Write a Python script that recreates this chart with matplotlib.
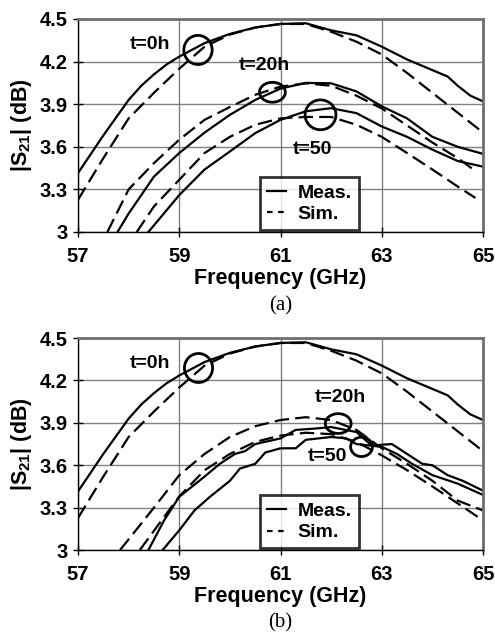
import matplotlib
matplotlib.use('Agg')
import matplotlib.pyplot as plt
from matplotlib.patches import Ellipse
from matplotlib.lines import Line2D

plt.rcParams['font.family'] = ['Liberation Sans', 'DejaVu Sans']
plt.rcParams['font.weight'] = 'bold'
plt.rcParams['mathtext.fontset'] = 'custom'
plt.rcParams['mathtext.rm'] = 'Liberation Sans:bold'
plt.rcParams['mathtext.bf'] = 'Liberation Sans:bold'

xticks = [57, 59, 61, 63, 65]
yticks = [3.0, 3.3, 3.6, 3.9, 4.2, 4.5]
ytick_labels = ['3', '3.3', '3.6', '3.9', '4.2', '4.5']

# t=0h (same in both panels)
f_t0 = [57, 57.5, 58, 58.25, 58.5, 58.75, 59, 59.5, 60, 60.5, 61, 61.5, 62, 62.5, 63, 63.5, 64, 64.3, 64.5, 64.75, 65]
meas_t0 = [3.415, 3.68, 3.93, 4.03, 4.11, 4.18, 4.235, 4.33, 4.395, 4.44, 4.465, 4.47, 4.42, 4.385, 4.305, 4.215, 4.14, 4.095, 4.03, 3.96, 3.92]
f_t0_sim = [57, 57.5, 58, 58.5, 59, 59.5, 60, 60.5, 61, 61.5, 62, 62.5, 63, 63.5, 64, 64.5, 65]
sim_t0 = [3.227, 3.52, 3.80, 3.98, 4.15, 4.305, 4.39, 4.44, 4.465, 4.465, 4.41, 4.34, 4.25, 4.12, 3.98, 3.84, 3.70]

# panel (a)
fa_meas_t20 = [57.78, 58, 58.5, 59, 59.5, 60, 60.5, 61, 61.5, 62, 62.5, 63, 63.5, 64, 64.5, 65]
a_meas_t20 = [3.0, 3.13, 3.39, 3.556, 3.70, 3.825, 3.93, 4.01, 4.05, 4.047, 3.99, 3.885, 3.80, 3.67, 3.60, 3.55]
fa_sim_t20 = [57.58, 58, 58.5, 59, 59.5, 60, 60.5, 61, 61.5, 62, 62.5, 63, 63.5, 64, 64.5, 64.85]
a_sim_t20 = [3.0, 3.30, 3.485, 3.65, 3.79, 3.88, 3.966, 4.024, 4.047, 4.03, 3.96, 3.87, 3.75, 3.63, 3.52, 3.43]
fa_meas_t50 = [58.39, 59, 59.5, 60, 60.5, 61, 61.5, 62, 62.5, 63, 63.5, 64, 64.5, 65]
a_meas_t50 = [3.0, 3.26, 3.44, 3.567, 3.696, 3.79, 3.85, 3.872, 3.837, 3.743, 3.67, 3.58, 3.50, 3.46]
fa_sim_t50 = [58.16, 58.5, 59, 59.5, 60, 60.5, 61, 61.5, 62, 62.5, 63, 63.5, 64, 64.5, 64.85]
a_sim_t50 = [3.0, 3.18, 3.368, 3.556, 3.67, 3.755, 3.80, 3.81, 3.81, 3.755, 3.67, 3.556, 3.44, 3.32, 3.24]

# panel (b)
fb_meas_t20 = [58.39, 58.7, 59, 59.5, 59.8, 60.1, 60.3, 60.5, 61, 61.3, 61.7, 62, 62.5, 62.8, 63.2, 63.5, 63.8, 64, 64.3, 64.6, 65]
b_meas_t20 = [3.0, 3.21, 3.377, 3.52, 3.61, 3.68, 3.70, 3.75, 3.79, 3.85, 3.86, 3.87, 3.835, 3.74, 3.75, 3.68, 3.61, 3.60, 3.53, 3.49, 3.42]
fb_meas_t50 = [58.67, 59, 59.3, 59.6, 60, 60.2, 60.5, 60.7, 61, 61.3, 61.5, 62, 62.3, 62.5, 63, 63.3, 63.6, 64, 64.5, 65]
b_meas_t50 = [3.0, 3.14, 3.28, 3.375, 3.49, 3.577, 3.61, 3.69, 3.72, 3.72, 3.78, 3.80, 3.79, 3.75, 3.73, 3.68, 3.61, 3.53, 3.47, 3.39]
fb_sim_t20 = [57.83, 58.5, 59, 59.5, 60, 60.5, 61, 61.5, 62, 62.5, 63, 63.5, 64, 64.5, 65]
b_sim_t20 = [3.0, 3.30, 3.53, 3.68, 3.80, 3.876, 3.92, 3.94, 3.92, 3.85, 3.72, 3.61, 3.49, 3.35, 3.28]
fb_sim_t50 = [58.22, 59, 59.5, 60, 60.5, 61, 61.5, 62, 62.5, 63, 63.5, 64, 64.5, 65]
b_sim_t50 = [3.0, 3.38, 3.565, 3.68, 3.765, 3.81, 3.83, 3.82, 3.765, 3.67, 3.565, 3.45, 3.33, 3.21]

# annotations: (x, y, width, height)
circles_a = [(59.37, 4.282, 0.56, 0.205), (60.84, 3.984, 0.51, 0.14), (61.79, 3.825, 0.61, 0.21)]
labels_a = [(58.42, 4.317, 't=0h'), (60.69, 4.17, 't=20h'), (61.64, 3.58, 't=50')]
circles_b = [(59.38, 4.288, 0.556, 0.205), (62.14, 3.895, 0.51, 0.14), (62.6, 3.73, 0.43, 0.137)]
labels_b = [(58.42, 4.32, 't=0h'), (62.19, 4.08, 't=20h'), (61.93, 3.66, 't=50')]

DASH = (0, (6.5, 2.8))


def draw_panel(ax, meas, sims, circles, labels, caption):
    for fx, fy in meas:
        ax.plot(fx, fy, color='black', lw=1.6, solid_joinstyle='round')
    for fx, fy in sims:
        ax.plot(fx, fy, color='black', lw=1.6, linestyle=DASH)
    for cx, cy, w, h in circles:
        ax.add_patch(Ellipse((cx, cy), w, h, fill=False, ec='black', lw=2, zorder=5))
    for lx, ly, txt in labels:
        ax.text(lx, ly, txt, ha='center', va='center', fontsize=14, fontweight='bold')

    ax.set_xlim(57, 65)
    ax.set_ylim(3, 4.5)
    ax.set_xticks(xticks)
    ax.set_xticklabels([str(x) for x in xticks])
    ax.set_yticks(yticks)
    ax.set_yticklabels(ytick_labels)
    ax.grid(True, color='#808080', lw=1)
    ax.set_axisbelow(True)
    ax.tick_params(direction='inout', length=7, width=1, labelsize=14.5)
    ax.tick_params(axis='x', pad=7)
    ax.tick_params(axis='y', pad=4)
    for lab in ax.get_xticklabels() + ax.get_yticklabels():
        lab.set_fontweight('bold')
    ax.spines['left'].set_color('black')
    ax.spines['bottom'].set_color('black')
    ax.spines['left'].set_linewidth(1)
    ax.spines['bottom'].set_linewidth(1)
    ax.spines['top'].set_color('#707070')
    ax.spines['right'].set_color('#707070')
    ax.spines['top'].set_linewidth(2)
    ax.spines['right'].set_linewidth(2)

    ax.set_xlabel('Frequency (GHz)', fontsize=15.5, fontweight='bold', labelpad=2)
    ax.set_ylabel('|S$_{21}$| (dB)', fontsize=15.5, fontweight='bold', labelpad=4)
    ax.text(0.5, -0.345, caption, transform=ax.transAxes, ha='center', va='center',
            fontsize=15, fontweight='normal', family='Liberation Serif')

    handles = [Line2D([], [], color='black', lw=1.6),
               Line2D([], [], color='black', lw=1.6, linestyle=(0, (2.5, 2.5)))]
    leg = ax.legend(handles, ['Meas.', 'Sim.'], loc='lower left',
                    bbox_to_anchor=(0.449, 0.009), fontsize=14, frameon=True,
                    fancybox=False, handlelength=1.0, handletextpad=0.6,
                    borderpad=0.35, labelspacing=0.2, borderaxespad=0)
    leg.get_frame().set_edgecolor('black')
    leg.get_frame().set_linewidth(2)
    leg.set_zorder(10)
    for t in leg.get_texts():
        t.set_fontweight('bold')


fig = plt.figure(figsize=(4.95, 6.33), dpi=100)
ax1 = fig.add_axes([0.1576, 0.6335, 0.8182, 0.3365])
ax2 = fig.add_axes([0.1576, 0.131, 0.8182, 0.335])

draw_panel(ax1,
           [(f_t0, meas_t0), (fa_meas_t20, a_meas_t20), (fa_meas_t50, a_meas_t50)],
           [(f_t0_sim, sim_t0), (fa_sim_t20, a_sim_t20), (fa_sim_t50, a_sim_t50)],
           circles_a, labels_a, '(a)')
draw_panel(ax2,
           [(f_t0, meas_t0), (fb_meas_t20, b_meas_t20), (fb_meas_t50, b_meas_t50)],
           [(f_t0_sim, sim_t0), (fb_sim_t20, b_sim_t20), (fb_sim_t50, b_sim_t50)],
           circles_b, labels_b, '(b)')

fig.savefig('out.png', dpi=100)
